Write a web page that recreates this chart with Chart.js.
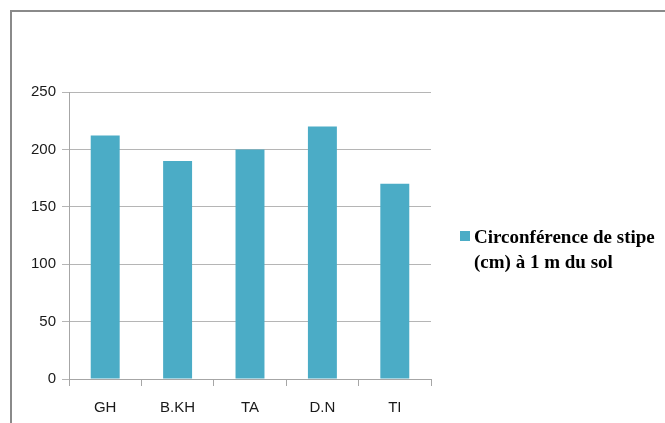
<!DOCTYPE html>
<html>
<head>
<meta charset="utf-8">
<script src="https://cdn.jsdelivr.net/npm/chart.js@4/dist/chart.umd.min.js"></script>
<style>
  html, body { margin: 0; padding: 0; background: #fff; overflow: hidden; }
  #wrap { position: relative; width: 665px; height: 423px; }
  #frame { position: absolute; left: 10px; top: 10px; width: 700px; height: 450px;
           border: 2px solid #8a8a8a; box-sizing: border-box; pointer-events: none; }
  #legend { position: absolute; left: 460px; top: 224px; font-family: "Liberation Serif", "Times New Roman", serif;
            font-weight: bold; font-size: 19px; line-height: 25px; color: #000; }
  #legend .sw { display: inline-block; width: 10px; height: 10px; background: #4BACC6; margin-right: 4px; vertical-align: 2px; }
  #legend .l2 { padding-left: 14px; }
</style>
</head>
<body>
<div id="wrap">
  <canvas id="c" width="665" height="423"></canvas>
  <div id="frame"></div>
  <div id="legend"></div>
</div>
<script>
const categories = ["GH", "B.KH", "TA", "D.N", "TI"];
const circumference = [212, 190, 200, 220, 170];
const seriesLabel = ["Circonférence de stipe", "(cm) à 1 m du sol"];
const yTicks = [0, 50, 100, 150, 200, 250];

document.getElementById("legend").innerHTML =
  '<div><span class="sw"></span>' + seriesLabel[0] + '</div><div class="l2">' + seriesLabel[1] + '</div>';

const ctx = document.getElementById("c").getContext("2d");
new Chart(ctx, {
  type: "bar",
  data: {
    labels: categories,
    datasets: [{
      label: seriesLabel.join(" "),
      data: circumference,
      backgroundColor: "#4BACC6",
      barPercentage: 0.4,
      categoryPercentage: 1
    }]
  },
  options: {
    responsive: false,
    animation: false,
    layout: { padding: { left: 0, top: 92, right: 234, bottom: 0 } },
    plugins: { legend: { display: false }, tooltip: { enabled: false } },
    scales: {
      x: {
        offset: true,
        grid: { offset: true, drawOnChartArea: false, drawTicks: true, tickLength: 7, color: "#a6a6a6" },
        border: { color: "#a6a6a6" },
        ticks: { color: "#1a1a1a", font: { family: "Liberation Sans", size: 15 }, padding: 13 },
        afterFit: s => { s.height = 44; }
      },
      y: {
        min: 0,
        max: 250,
        afterBuildTicks: s => { s.ticks = yTicks.map(v => ({ value: v })); },
        grid: { color: "#b5b5b5", tickLength: 7 },
        border: { color: "#a6a6a6" },
        ticks: { color: "#1a1a1a", font: { family: "Liberation Sans", size: 15 }, padding: 6 },
        afterFit: s => { s.width = 69; }
      }
    }
  }
});
</script>
</body>
</html>
